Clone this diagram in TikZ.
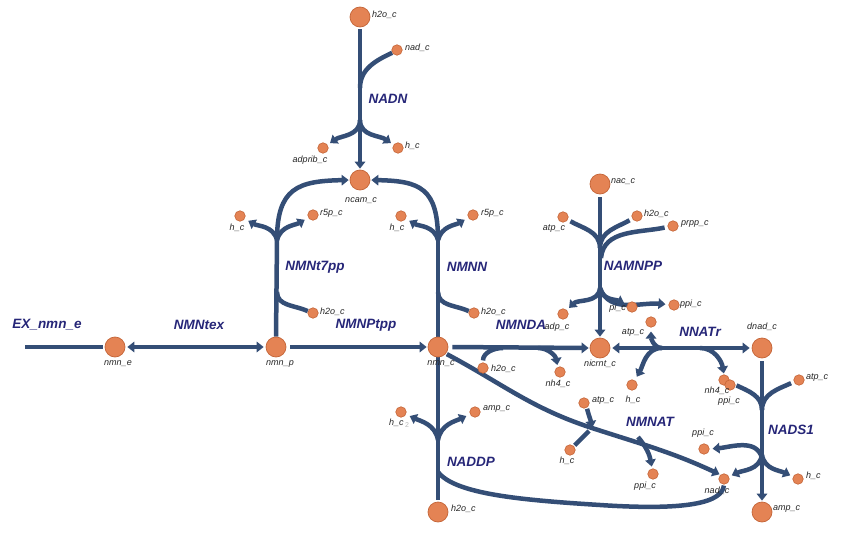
\documentclass[tikz,border=0pt]{standalone}
\usepackage{fontspec}
\setmainfont{Liberation Sans}
\usetikzlibrary{arrows.meta}
\definecolor{fluxc}{RGB}{52,78,118}
\definecolor{met}{RGB}{228,131,84}
\definecolor{metb}{RGB}{196,100,55}
\definecolor{rxn}{RGB}{38,38,120}
\pgfdeclarelayer{bg}
\pgfsetlayers{bg,main}
\tikzset{
 big/.style={circle,fill=met,draw=metb,line width=0.7pt,minimum size=20pt,inner sep=0pt},
 small/.style={circle,fill=met,draw=metb,line width=0.6pt,minimum size=10.5pt,inner sep=0pt},
 mlab/.style={font=\fontsize{9}{10}\selectfont\itshape,inner sep=0pt,text=black!85},
 rlab/.style={font=\fontsize{13.5}{15}\selectfont\bfseries\itshape,text=rxn,inner sep=0pt},
 fl/.style={draw=fluxc,line width=4.5pt},
 ar/.style={fl,-{Triangle[length=7pt,width=10.5pt]}},
 dar/.style={fl,{Triangle[length=7pt,width=10.5pt]}-{Triangle[length=7pt,width=10.5pt]}},
}
\begin{document}
\begin{tikzpicture}[x=1pt,y=-1pt]
\useasboundingbox (0,0) rectangle (847,546);

% ---------- metabolites ----------
\node[big]   (h2oA)  at (360,17) {};
\node[small] (nadA)  at (397,50) {};
\node[small] (adprib) at (323,148) {};
\node[small] (hA)    at (398,148) {};
\node[big]   (ncam)  at (360,180) {};
\node[small] (hB)    at (240,216) {};
\node[small] (r5pB)  at (313,215) {};
\node[small] (h2oB)  at (313,313) {};
\node[big]   (nmne)  at (115,347) {};
\node[big]   (nmnp)  at (276,347) {};
\node[big]   (nmnc)  at (438,347) {};
\node[small] (hC)    at (401,216) {};
\node[small] (r5pC)  at (473,215) {};
\node[small] (h2oC)  at (474,313) {};
\node[big]   (nac)   at (600,184) {};
\node[small] (atpD)  at (563,217) {};
\node[small] (h2oD)  at (637,216) {};
\node[small] (prpp)  at (673,226) {};
\node[small] (piD)   at (632,307) {};
\node[small] (ppiD)  at (674,305) {};
\node[small] (adpD)  at (563,314) {};
\node[big]   (nicrnt) at (600,348) {};
\node[small] (h2oE)  at (483,368) {};
\node[small] (nh4E)  at (560,372) {};
\node[small] (atpF)  at (651,322) {};
\node[small] (hF)    at (632,385) {};
\node[big]   (dnad)  at (762,348) {};
\node[small] (nh4F)  at (724,380) {};
\node[small] (ppiF)  at (730,385) {};
\node[small] (atpG)  at (799,380) {};
\node[small] (ppiG)  at (704,449) {};
\node[small] (hG)    at (798,479) {};
\node[small] (nadG)  at (724,479) {};
\node[big]   (amp)   at (762,512) {};
\node[small] (atpH)  at (584,403) {};
\node[small] (hH)    at (570,450) {};
\node[small] (ppiH)  at (653,474) {};
\node[small] (hI)    at (401,412) {};
\node[small] (ampI)  at (475,412) {};
\node[big]   (h2oI)  at (438,512) {};

% ---------- metabolite labels ----------
\node[mlab,anchor=west] (L1) at (372,15) {h2o\_c};
\node[mlab,anchor=west] (L2) at (405,48) {nad\_c};
\node[mlab] (L3) at (310,160) {adprib\_c};
\node[mlab,anchor=west] (L4) at (405,146) {h\_c};
\node[mlab] (L5) at (361,201) {ncam\_c};
\node[mlab] (L6) at (237,228) {h\_c};
\node[mlab,anchor=west] (L7) at (320,213) {r5p\_c};
\node[mlab,anchor=west] (L8) at (320,312) {h2o\_c};
\node[mlab] (L9) at (118,364) {nmn\_e};
\node[mlab] (L10) at (280,364) {nmn\_p};
\node[mlab] (L11) at (441,364) {nmn\_c};
\node[mlab] (L12) at (397,228) {h\_c};
\node[mlab,anchor=west] (L13) at (481,213) {r5p\_c};
\node[mlab,anchor=west] (L14) at (481,312) {h2o\_c};
\node[mlab,anchor=west] (L15) at (611,182) {nac\_c};
\node[mlab] (L16) at (554,229) {atp\_c};
\node[mlab,anchor=west] (L17) at (644,214) {h2o\_c};
\node[mlab,anchor=west] (L18) at (681,224) {prpp\_c};
\node[mlab,anchor=east] (L19) at (626,308) {pi\_c};
\node[mlab,anchor=west] (L20) at (680,304) {ppi\_c};
\node[mlab] (L21) at (557,327) {adp\_c};
\node[mlab] (L22) at (600,364) {nicrnt\_c};
\node[mlab,anchor=west] (L23) at (491,369) {h2o\_c};
\node[mlab] (L24) at (558,384) {nh4\_c};
\node[mlab] (L25) at (633,333) {atp\_c};
\node[mlab] (L26) at (633,400) {h\_c};
\node[mlab] (L27) at (762,327) {dnad\_c};
\node[mlab] (L28) at (717,391) {nh4\_c};
\node[mlab] (L29) at (729,401) {ppi\_c};
\node[mlab,anchor=west] (L30) at (806,378) {atp\_c};
\node[mlab] (L31) at (703,433) {ppi\_c};
\node[mlab,anchor=west] (L32) at (806,476) {h\_c};
\node[mlab] (L33) at (717,491) {nad\_c};
\node[mlab,anchor=west] (L34) at (773,509) {amp\_c};
\node[mlab,anchor=west] (L35) at (592,401) {atp\_c};
\node[mlab] (L36) at (567,461) {h\_c};
\node[mlab] (L37) at (645,486) {ppi\_c};
\node[mlab] (L38) at (399,423) {h\_c\,{\color{gray!55}\fontsize{7}{7}\selectfont\raisebox{-1.5pt}{\upshape 2}}};
\node[mlab,anchor=west] (L39) at (483,409) {amp\_c};
\node[mlab,anchor=west] (L40) at (451,509) {h2o\_c};

% ---------- reaction labels ----------
\node[rlab] (R1) at (388,99) {NADN};
\node[rlab] (R2) at (315,267) {NMNt7pp};
\node[rlab] (R3) at (467,267) {NMNN};
\node[rlab] (R4) at (47,325) {EX\_nmn\_e};
\node[rlab] (R5) at (199,325) {NMNtex};
\node[rlab] (R6) at (366,325) {NMNPtpp};
\node[rlab] (R7) at (521,325) {NMNDA};
\node[rlab] (R8) at (633,266) {NAMNPP};
\node[rlab] (R9) at (700,332) {NNATr};
\node[rlab] (R10) at (791,430) {NADS1};
\node[rlab] (R11) at (650,422) {NMNAT};
\node[rlab] (R12) at (471,462) {NADDP};

% ---------- junction coordinates ----------
\coordinate (jA1) at (360,88);
\coordinate (jA2) at (360,120);
\coordinate (jB1) at (277,292);
\coordinate (jB2) at (277,240);
\coordinate (jC1) at (438,292);
\coordinate (jC2) at (438,240);
\coordinate (exl) at (25,347);
\coordinate (jE1) at (503,348);
\coordinate (jE2) at (538,348);
\coordinate (jD1) at (600,248);
\coordinate (jD1c) at (601,258);
\coordinate (jD2) at (600,288);
\coordinate (jF1) at (662,348);
\coordinate (jF2) at (700,348);
\coordinate (jG1) at (762,410);
\coordinate (jG2) at (762,458);
\coordinate (jG3) at (762,455);
\coordinate (jH1) at (592,428);
\coordinate (jH1b) at (589,431);
\coordinate (jH2) at (638,437);
\coordinate (jI1) at (438,440);
\coordinate (jI2) at (438,472);
\coordinate (cI) at (600,505);

\begin{pgfonlayer}{bg}
\fill[white] (0,0) rectangle (847,546);
% NADN
\draw[ar,shorten <=2pt,shorten >=1pt] (h2oA.south) -- (ncam.north);
\draw[fl] (nadA.210) to[out=205,in=90] (jA1);
\draw[ar,shorten >=3pt] (jA2) to[out=-90,in=35] (adprib);
\draw[ar,shorten >=3pt] (jA2) to[out=-90,in=145] (hA);
% NMNt7pp
\draw[fl] (nmnp.north) -- (jB2);
\draw[fl] (h2oB.160) to[out=155,in=-90] (jB1);
\draw[ar,shorten >=1pt] (jB2) .. controls (277,188) and (298,181) .. (ncam.west);
\draw[ar,shorten >=4pt] (jB2) to[out=105,in=-30] (hB);
\draw[ar,shorten >=4pt] (jB2) to[out=75,in=210] (r5pB);
% NMNN
\draw[fl] (nmnc.north) -- (jC2);
\draw[fl] (h2oC.160) to[out=155,in=-90] (jC1);
\draw[ar,shorten >=1pt] (jC2) .. controls (438,188) and (420,181) .. (ncam.east);
\draw[ar,shorten >=4pt] (jC2) to[out=105,in=-30] (hC);
\draw[ar,shorten >=4pt] (jC2) to[out=75,in=210] (r5pC);
% NMNtex, EX, NMNPtpp
\draw[dar,shorten <=2pt,shorten >=2pt] (nmne.east) -- (nmnp.west);
\draw[fl,shorten >=2pt] (exl) -- (nmne.west);
\draw[ar,shorten <=4pt,shorten >=1pt] (nmnp.east) -- (nmnc.west);
% NMNDA
\draw[ar,shorten <=4pt,shorten >=1pt] (nmnc.east) -- (nicrnt.west);
\draw[fl,shorten <=2pt] (h2oE.north) to[out=90,in=180] (jE1);
\draw[ar,shorten >=2pt] (jE2) to[out=0,in=100] (nh4E.115);
% NAMNPP
\draw[ar,shorten <=3pt,shorten >=1pt] (nac.south) -- (nicrnt.north);
\draw[fl,shorten <=3pt] (atpD.-30) to[out=-30,in=90] (jD1);
\draw[fl,shorten <=3pt] (h2oD.210) to[out=210,in=90] (jD1);
\draw[fl,shorten <=3pt] (prpp.190) to[out=192,in=85] (jD1c);
\draw[ar,shorten >=3pt] (jD2) to[out=-95,in=45] (adpD);
\draw[ar,shorten >=3pt] (jD2) to[out=-80,in=155] (piD);
\draw[ar,shorten >=3pt] (jD2) to[out=-70,in=175] (ppiD);
% NNATr
\draw[dar,shorten <=2pt,shorten >=2pt] (nicrnt.east) -- (dnad.west);
\draw[ar,shorten >=4pt] (jF1) to[out=180,in=-90] (atpF.south);
\draw[ar,shorten >=4pt] (jF1) to[out=180,in=60] (hF);
\draw[ar,shorten >=1pt] (jF2) to[out=0,in=100] (nh4F.north);
% NADS1
\draw[ar,shorten <=3pt,shorten >=1pt] (dnad.south) -- (amp.north);
\draw[fl,shorten <=1pt] (ppiF.east) to[out=-25,in=90] (jG1);
\draw[fl,shorten <=3pt] (atpG.200) to[out=205,in=90] (jG1);
\draw[ar,shorten >=3pt] (jG2) to[out=105,in=5] (ppiG.east);
\draw[ar,shorten >=3pt] (jG3) to[out=-100,in=25] (nadG);
\draw[ar,shorten >=3pt] (jG3) to[out=-80,in=155] (hG);
% NMNAT
\draw[ar,shorten <=1pt,shorten >=1pt] (nmnc.-40) to[out=-28,in=162] (jH1) to[out=-18,in=155] (nadG.130);
\draw[ar,shorten <=1pt] (atpH.-60) to[out=-75,in=100] (jH1);
\draw[fl,shorten <=1pt] (hH.45) -- (jH1b);
\draw[ar,shorten >=2pt] (jH2) to[out=-50,in=100] (ppiH.100);
% NADDP
\draw[fl,shorten <=2pt] (h2oI.north) -- (nmnc.south);
\draw[ar,shorten >=4pt] (jI1) to[out=100,in=-25] (hI);
\draw[ar,shorten >=4pt] (jI1) to[out=80,in=205] (ampI);
\draw[fl,shorten >=1pt] (jI2) .. controls (455,494) and (520,500) .. (cI) .. controls (690,511) and (722,502) .. (nadG.south);
\end{pgfonlayer}
\end{tikzpicture}
\end{document}
